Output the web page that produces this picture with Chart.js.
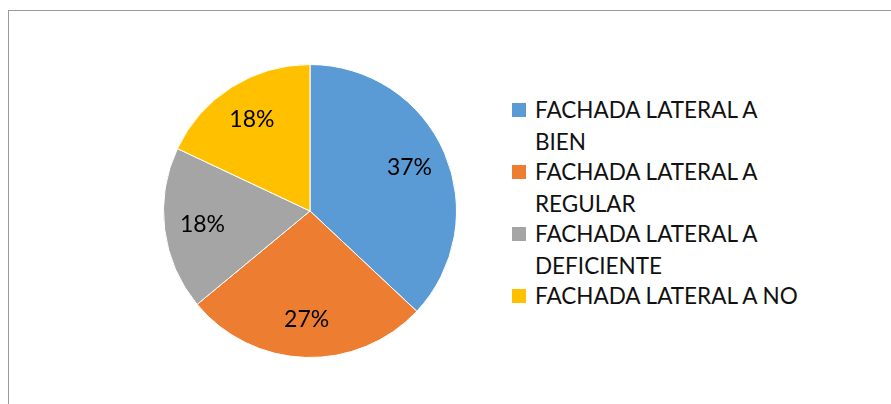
<!DOCTYPE html>
<html>
<head>
<meta charset="utf-8">
<script src="https://cdn.jsdelivr.net/npm/chart.js"></script>
<style>
    body { margin: 0; background: #fff; width: 891px; height: 404px; overflow: hidden; position: relative; font-family: Lato, "Open Sans", sans-serif; }
    #marco { position: absolute; left: 8px; top: 10px; width: 900px; height: 420px; border: 1px solid #9a9a9a; }
    #contenedor { position: absolute; left: 163px; top: 64px; width: 294px; height: 294px; }
    #leyenda { position: absolute; left: 512px; top: 94px; width: 291px; color: #111; font-size: 22.5px; }
    .item { position: relative; padding-left: 23px; line-height: 32px; margin-bottom: -2px; }
    .cuadro { position: absolute; left: 0; top: 9px; width: 14px; height: 14px; }
</style>
</head>
<body>
<div id="marco"></div>
<div id="contenedor"><canvas id="grafico-fachada"></canvas></div>
<div id="leyenda"></div>
<script>
var categorias = ['FACHADA LATERAL A BIEN', 'FACHADA LATERAL A REGULAR', 'FACHADA LATERAL A DEFICIENTE', 'FACHADA LATERAL A NO'];
var porcentajes = [37, 27, 18, 18];
var colores = ['#5b9bd5', '#ed7d31', '#a5a5a5', '#ffc000'];

// etiquetas de porcentaje dentro de cada porcion
var etiquetasPlugin = {
    id: 'etiquetas',
    afterDatasetsDraw: function (chart) {
        var ctx = chart.ctx;
        var arcos = chart.getDatasetMeta(0).data;
        ctx.save();
        ctx.font = '23px Lato';
        ctx.fillStyle = '#000';
        ctx.textAlign = 'center';
        ctx.textBaseline = 'middle';
        for (var i = 0; i < arcos.length; i++) {
            var p = arcos[i].getProps(['x', 'y', 'startAngle', 'endAngle', 'outerRadius']);
            var medio = (p.startAngle + p.endAngle) / 2;
            var r = p.outerRadius * 0.74;
            ctx.fillText(porcentajes[i] + '%', p.x + Math.cos(medio) * r, p.y + Math.sin(medio) * r);
        }
        ctx.restore();
    }
};

var ctx = document.getElementById('grafico-fachada');
var chart = new Chart(ctx, {
    type: 'pie',
    data: {
        labels: categorias,
        datasets: [{
            data: porcentajes,
            backgroundColor: colores,
            borderColor: '#fff',
            borderWidth: 1
        }]
    },
    options: {
        responsive: true,
        maintainAspectRatio: false,
        animation: false,
        plugins: {
            legend: { display: false },
            tooltip: { enabled: false }
        }
    },
    plugins: [etiquetasPlugin]
});

var leyenda = document.getElementById('leyenda');
for (var i = 0; i < categorias.length; i++) {
    var item = document.createElement('div');
    item.className = 'item';
    item.innerHTML = '<span class="cuadro" style="background:' + colores[i] + '"></span>' + categorias[i];
    leyenda.appendChild(item);
}
</script>
</body>
</html>
